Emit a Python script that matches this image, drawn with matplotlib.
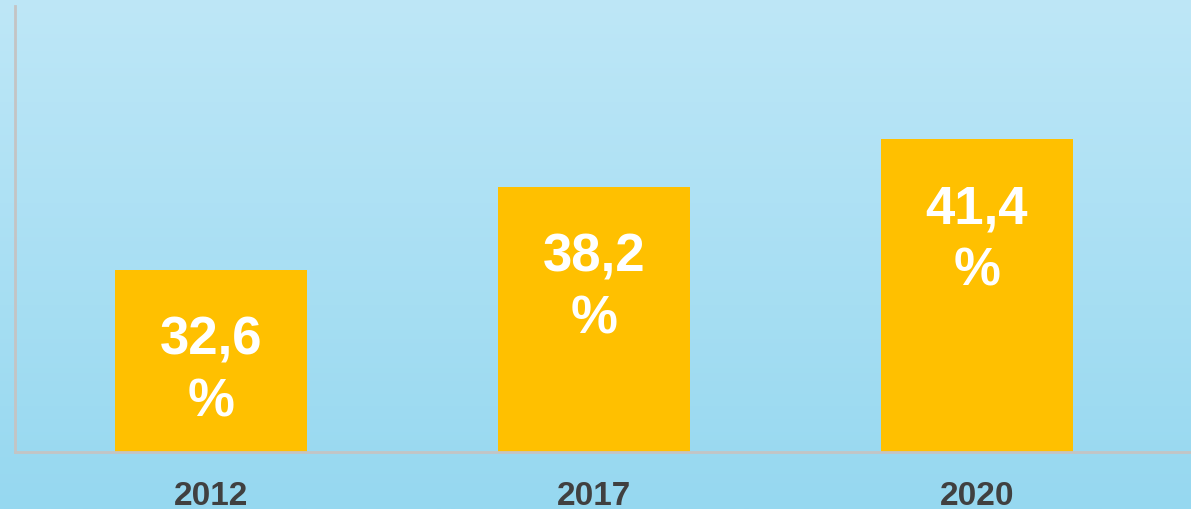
import numpy as np
import matplotlib.pyplot as plt

years = ["2012", "2017", "2020"]
shares = [32.6, 38.2, 41.4]
labels = ["32,6\n%", "38,2\n%", "41,4\n%"]

W, H = 1191, 510
fig = plt.figure(figsize=(W / 100, H / 100), dpi=100)

# vertical light-blue gradient behind everything
bg = fig.add_axes([0, 0, 1, 1], zorder=-1)
top = np.array([190, 231, 247]) / 255
bot = np.array([150, 216, 240]) / 255
t = np.linspace(0, 1, 256)[:, None, None]
grad = top * (1 - t) + bot * t
bg.imshow(grad, aspect="auto", extent=[0, 1, 0, 1])
bg.axis("off")

ax = fig.add_axes([15 / W, (H - 453) / H, (W - 15) / W, (453 - 7) / H])
ax.patch.set_alpha(0)

x = np.arange(len(years))
ax.bar(x, shares, width=0.5, color="#FFC000", zorder=2)

ax.set_xlim(-0.512, 2.559)
ax.set_ylim(20.33, 50.4)

for xi, v, lab in zip(x, shares, labels):
    ax.text(xi, v - 3.0, lab, ha="center", va="top", color="white",
            fontsize=38, fontweight="bold", family="Liberation Sans",
            linespacing=1.3, zorder=3)

ax.set_xticks(x)
ax.set_xticklabels(years, fontsize=24, fontweight="bold",
                   family="Liberation Sans", color="#404040")
ax.tick_params(axis="x", length=0, pad=20)
ax.set_yticks([])

for side in ("top", "right"):
    ax.spines[side].set_visible(False)
for side in ("left", "bottom"):
    ax.spines[side].set_color("#C4C4C4")
    ax.spines[side].set_linewidth(2)

fig.savefig("out.png", dpi=100)
